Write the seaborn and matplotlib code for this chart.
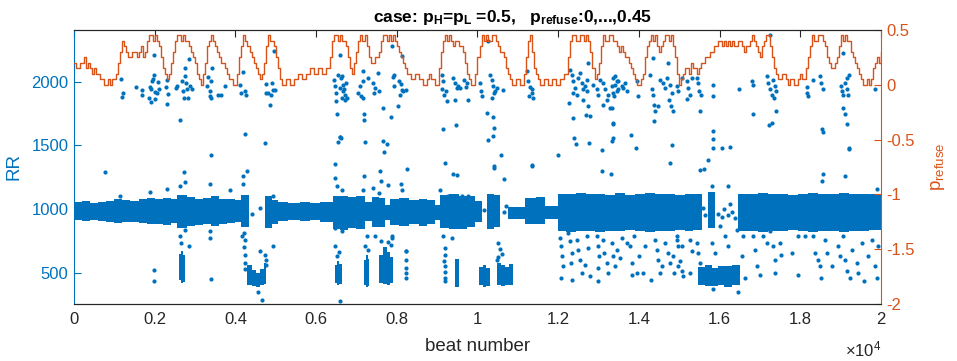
import matplotlib
matplotlib.use('Agg')
import matplotlib.pyplot as plt
from matplotlib.ticker import FuncFormatter
import pandas as pd
import seaborn as sns

BLUE = '#0072BD'
ORANGE = '#D95319'
GREY = '#262626'
NAN = float('nan')

# p_refuse, read every 50 beats
p_beat = list(range(0, 20001, 50))
p_refuse = [
    .2, .15, .15, .2, .2, .25, .15, .2, .15, .1, .15, .1, .1, .05, .05, 0, 0, .05, 0, .05,
    .05, .1, .2, .3, .4, .35, .3, .25, .25, .3, .3, .25, .3, .35, .25, .3, .4, .45, .45, .4,
    .45, .4, .35, .25, .15, .1, .05, .1, .2, .3, .4, .45, .45, .4, .45, .4, .4, .35, .3, .25,
    .2, .1, .05, 0, .1, .2, .35, .4, .45, .4, .35, .3, .25, .2, .2, .15, .1, .05, .05, 0,
    0, .1, .25, .35, .45, .4, .35, .3, .25, .2, .15, .1, .05, .1, .2, .35, .45, .4, .4, .35,
    .25, .15, .05, 0, 0, .05, .05, 0, 0, .05, .05, .1, .1, .05, .05, .1, .1, .15, .15, .1,
    .1, .15, .15, .1, .1, .15, .15, .25, .4, .45, .45, .4, .45, .4, .4, .35, .25, .15, .1, .2,
    .3, .4, .45, .4, .45, .35, .25, .2, .2, .25, .25, .3, .4, .45, .45, .4, .45, .4, .45, .4,
    .35, .3, .25, .2, .15, .1, .1, .05, .05, .1, .1, .05, .05, 0, 0, .05, .1, .05, .05, 0,
    0, .15, .3, .4, .45, .4, .45, .4, .35, .4, .4, .35, .35, .3, .2, .1, .05, 0, 0, .1,
    .25, .35, .45, .4, .45, .4, .4, .45, .45, .4, .35, .3, .3, .25, .15, .1, .05, 0, 0, .05,
    .05, 0, 0, .1, .25, .4, .45, .3, .15, .1, .05, 0, 0, .05, .05, 0, 0, .05, .05, 0,
    0, .05, .05, .1, .1, .25, .4, .45, .45, .4, .4, .45, .45, .4, .45, .4, .3, .15, .05, .1,
    .2, .35, .45, .4, .4, .45, .45, .4, .4, .35, .3, .35, .3, .25, .25, .2, .15, .1, .05, 0,
    0, .05, .1, .25, .35, .4, .45, .4, .45, .35, .3, .35, .4, .45, .45, .4, .45, .35, .25, .1,
    0, .05, .1, .15, .15, .1, .2, .15, .15, .1, .15, .2, .2, .25, .25, .3, .3, .35, .35, .4,
    .4, .35, .4, .35, .4, .35, .4, .35, .35, .4, .4, .35, .3, .35, .35, .4, .45, .4, .35, .3,
    .25, .35, .4, .45, .45, .35, .25, .15, .1, .05, .05, .1, .1, .05, 0, .05, .05, 0, 0, .05,
    .1, .05, .05, .15, .25, .35, .45, .4, .4, .45, .45, .4, .35, .25, .2, .15, .15, .2, .25, .35,
    .45, .4, .45, .4, .4, .3, .25, .2, .15, .1, .05, 0, 0, .05, 0, .05, .15, .2, .25, .2,
    .3,
]

# dense part of the RR cloud: (beat where a step starts, low RR, high RR); NaN = no cloud
band_steps = [
    (0, 915, 1055), (200, 905, 1060), (400, 910, 1050), (600, 905, 1055), (800, 895, 1065),
    (1000, 890, 1075), (1200, 900, 1070), (1400, 895, 1065), (1600, 890, 1075), (1800, 880, 1085),
    (2000, 885, 1075), (2200, 875, 1085), (2400, 890, 1075), (2550, 850, 1110), (2800, 865, 1095),
    (3000, 875, 1080), (3200, 880, 1085), (3400, 870, 1100), (3600, 885, 1080), (3800, 890, 1075),
    (4000, 895, 1070), (4150, 855, 1110), (4345, NAN, NAN), (4733, 850, 1105), (4900, 885, 1070),
    (5050, 905, 1055), (5300, 910, 1050), (5600, 905, 1055), (5850, 910, 1050), (6100, 902, 1058),
    (6430, 840, 1100), (6600, 835, 1105), (6800, 850, 1095), (7000, 840, 1105), (7210, 905, 1055),
    (7380, 855, 1095), (7560, 860, 1090), (7710, 910, 1030), (7830, 875, 1080), (8050, 870, 1085),
    (8300, 880, 1070), (8550, 870, 1080), (8750, 885, 1070), (8950, 915, 1030), (9070, 850, 1110),
    (9300, 845, 1115), (9550, 845, 1105), (9750, 860, 1100), (9940, 895, 1065), (10100, NAN, NAN),
    (10226, 845, 1120), (10400, 855, 1110), (10557, NAN, NAN), (10763, 920, 1015), (11176, 880, 1090),
    (11450, 885, 1095), (11672, 925, 1020), (12002, 830, 1115), (12200, 820, 1120), (12450, 825, 1125),
    (12700, 830, 1115), (12900, 820, 1120), (13150, 830, 1110), (13400, 825, 1125), (13650, 835, 1110),
    (13900, 825, 1115), (14150, 820, 1125), (14400, 830, 1115), (14650, 825, 1120), (14900, 835, 1110),
    (15150, 825, 1120), (15350, 835, 1115), (15554, NAN, NAN), (15719, 850, 1130), (15884, NAN, NAN),
    (16463, 830, 1115), (16700, 825, 1120), (16950, 820, 1125), (17200, 830, 1115), (17450, 825, 1120),
    (17700, 835, 1110), (17950, 825, 1120), (18200, 820, 1125), (18450, 830, 1115), (18700, 825, 1120),
    (18950, 820, 1125), (19200, 830, 1115), (19450, 825, 1120), (19700, 835, 1115), (20000, NAN, NAN),
]

# dense low-RR clusters, same layout
blob_steps = [
    (2600, 440, 650), (2650, 420, 670), (2700, 430, 640), (2745, NAN, NAN),
    (4290, 400, 560), (4400, 395, 520), (4500, 390, 500), (4620, 400, 530), (4700, 410, 575),
    (4770, NAN, NAN),
    (6460, 420, 560), (6520, 407, 590), (6580, 415, 570), (6630, NAN, NAN),
    (7180, 400, 600), (7230, 385, 640), (7280, 395, 610), (7310, NAN, NAN),
    (7560, 420, 640), (7650, 410, 700), (7750, 405, 660), (7830, 420, 620), (7900, NAN, NAN),
    (9450, 390, 610), (9530, NAN, NAN),
    (10040, 400, 545), (10130, 385, 560), (10220, 395, 540), (10300, NAN, NAN),
    (10480, 400, 580), (10580, 395, 560), (10680, 400, 545), (10780, 405, 570), (10880, NAN, NAN),
    (15470, 400, 545), (15650, 395, 560), (15800, 395, 540), (15950, 400, 555), (16100, 390, 550),
    (16300, 400, 560), (16500, NAN, NAN),
]

# single beats around 2000 ms
upper_pts = [
    (1173, 2024), (1214, 1911), (1189, 1880), (1528, 1956), (1685, 1930), (1685, 1891),
    (1875, 1956), (1900, 1938), (1850, 1872), (1916, 1841), (1941, 2003), (1958, 2024),
    (1982, 2055), (1999, 1917), (2015, 1867), (2048, 1911), (2081, 1995), (2098, 1943),
    (1982, 2207), (2288, 1956), (2313, 2016), (2296, 1825), (2329, 1904), (2536, 1951),
    (2560, 1969), (2684, 2008), (2709, 1924), (2726, 1872), (2742, 2107), (2759, 2042),
    (2784, 1990), (2808, 1938), (2825, 1872), (2841, 2178), (2866, 1964), (2924, 1943),
    (3304, 1964), (3320, 2034), (3362, 1924), (3378, 1885), (3386, 1872), (3403, 2003),
    (3420, 2107), (3568, 1891), (3651, 1898), (3733, 1969), (4122, 1977), (4147, 1911),
    (4196, 2073), (4229, 1924), (4270, 1898), (4749, 1982), (4766, 1911), (4807, 1911),
    (4848, 1815), (4890, 1898), (4906, 1990), (4931, 1930), (4972, 1932), (4948, 2243),
    (6434, 2016), (6459, 1964), (6484, 1911), (6501, 1846), (6542, 2055), (6583, 1951),
    (6625, 2029), (6666, 1924), (6707, 1859), (6749, 1990), (6591, 2212), (6632, 2042),
    (6657, 1977), (6690, 1938), (6715, 1898), (6756, 1872), (6632, 1872), (7169, 2086),
    (7153, 2003), (7087, 1964), (7045, 1911), (7103, 1885), (7153, 1872), (7293, 2029),
    (7417, 1990), (7458, 1951), (7434, 1911), (7566, 1924), (7541, 2068), (7896, 2034),
    (7929, 2055), (7929, 1964), (8061, 2003), (8103, 1982), (8119, 1930), (8078, 1893),
    (8160, 1924), (8226, 1930), (8037, 1807), (8119, 2199), (7871, 2277), (9110, 2055),
    (9152, 2003), (9127, 1938), (9168, 1898), (9218, 1924), (9234, 1851), (9399, 2029),
    (9441, 1990), (9482, 1951), (9523, 1964), (9565, 1951), (9441, 1859), (9664, 2016),
    (9730, 1990), (9713, 1956), (9771, 1859), (10060, 1990), (10077, 1924), (10102, 1885),
    (10308, 2055), (10349, 2016), (10391, 1964), (10407, 1911), (10366, 1872), (10440, 1924),
    (10473, 1951), (10638, 1932), (10267, 2316), (11217, 2081), (11258, 2003), (11299, 1956),
    (11341, 1938), (11274, 1885), (11357, 1911), (11382, 1872), (12290, 2094), (12332, 2055),
    (12373, 2003), (12414, 1951), (12373, 1911), (12274, 1833), (12456, 1898), (12497, 2029),
    (12538, 2068), (12580, 1990), (12604, 1938), (12621, 1859), (12662, 1964), (12703, 2016),
    (12745, 2147), (12720, 1924), (12745, 1807), (12869, 1977), (12951, 1938), (12993, 1898),
    (13034, 2016), (13116, 1990), (13158, 1938), (13116, 1820), (13199, 1859), (13240, 1898),
    (13323, 1964), (13364, 1911), (13406, 2042), (13447, 2003), (13488, 1938), (13365, 2029),
    (13406, 1977), (13447, 1924), (13381, 1885), (13489, 2003), (13654, 1990), (13612, 1951),
    (13695, 1924), (13571, 1964), (13984, 1885), (13943, 2003), (14273, 2055), (14315, 1938),
    (14356, 1898), (14339, 2186), (14372, 1820), (14521, 2016), (14604, 1990), (14645, 1951),
    (14686, 2029), (14728, 2147), (14769, 1977), (14810, 1911), (14752, 1859), (14794, 1807),
    (14934, 1964), (14975, 1924), (15058, 2029), (15182, 2003), (15223, 1951), (15264, 1898),
    (15198, 1867), (15306, 2029), (15430, 2029), (15471, 1990), (15496, 1924), (15529, 1898),
    (15826, 1977), (15843, 1885), (16487, 1943), (16793, 2003), (16834, 1977), (17164, 2042),
    (17206, 1990), (17247, 1938), (17288, 1898), (17329, 2016), (17371, 1964), (17346, 1872),
    (17395, 1924), (17247, 2369), (18155, 1956), (18172, 1911), (18197, 1885), (18321, 2016),
    (18486, 2042), (18502, 1990), (18568, 1938), (18998, 1964), (19039, 1924), (19064, 1898),
    (19105, 1990), (19147, 2029), (19163, 1938), (19188, 1898), (19213, 2055), (19064, 2225),
    (19849, 1945),
]

# single beats between the cloud and 2000 ms
mid_pts = [
    (768, 1287), (2627, 1702), (2726, 1287), (3403, 1423), (4229, 1585), (4295, 1300),
    (4741, 1520), (6525, 1742), (6608, 1559), (6542, 1525), (6459, 1350), (6592, 1564),
    (7665, 1794), (7847, 1721), (7186, 1747), (7186, 1695), (7211, 1528), (6591, 1564),
    (7665, 1533), (7747, 1512), (7690, 1449), (7195, 1261), (7583, 1295), (8244, 1313),
    (9152, 1629), (9465, 1658), (9193, 1363), (9400, 1277), (9483, 1266), (10225, 1755),
    (10391, 1721), (10407, 1637), (10391, 1572), (10267, 1538), (10581, 1423), (10407, 1337),
    (10416, 1321), (10656, 1235), (11358, 1339), (12001, 1423), (11349, 1342), (12373, 1716),
    (12687, 1736), (12786, 1729), (12390, 1554), (12439, 1512), (12769, 1520), (13075, 1460),
    (13282, 1794), (13364, 1677), (13348, 1559), (13092, 1295), (13307, 1277), (13323, 1794),
    (14397, 1768), (14372, 1689), (14480, 1807), (14835, 1773), (15512, 1768), (16817, 1747),
    (17288, 1677), (17222, 1658), (17395, 1768), (19064, 1794), (19105, 1742), (19147, 1669),
    (18527, 1624), (18568, 1606), (13365, 1669), (13323, 1533), (13794, 1580), (13926, 1481),
    (14810, 1501), (14769, 1363), (15719, 1381), (15826, 1611), (15826, 1546), (15826, 1475),
    (16049, 1475), (16256, 1488), (19196, 1475), (15512, 1303), (15620, 1313), (18552, 1277),
    (18544, 1217), (19106, 1261), (19205, 1470), (15818, 1183), (16198, 1183), (19890, 1157),
]

# single beats just off the cloud and below it
low_pts = [
    (1883, 1130), (2296, 1157), (2627, 1183), (2750, 1209), (3370, 1198), (3866, 1146),
    (4196, 1196), (4196, 1256), (1140, 1104), (4940, 1099), (3370, 825), (3370, 773),
    (4155, 786), (4609, 668), (4733, 642), (4940, 707), (4774, 903), (2627, 791),
    (2858, 713), (2750, 838), (8103, 1198), (7459, 786), (7888, 773), (7789, 739),
    (8227, 668), (1991, 519), (1991, 433), (3395, 454), (4650, 289), (4551, 349),
    (6592, 276), (16462, 349), (15843, 373), (6468, 1243), (6509, 1183), (6633, 1151),
    (7170, 1151), (7418, 1165), (7558, 1125), (7608, 1217), (7773, 1191), (8119, 1151),
    (7872, 786), (6468, 851), (6633, 825), (7253, 786), (9152, 786), (9359, 773),
    (9441, 864), (9070, 1151), (9276, 1099), (9607, 1099), (9772, 1099),
    (4220, 812), (4235, 760), (4225, 700), (4240, 640), (4230, 580), (4245, 530),
    (4760, 600), (4770, 560), (2651, 734), (6480, 707), (6560, 660), (6510, 630),
    (7200, 707), (7280, 680), (7600, 746), (7850, 720),
    (8230, 668), (8235, 600), (8230, 540), (8240, 500), (8235, 455),
    (9190, 694), (9195, 640), (9180, 590), (9200, 550), (9190, 505), (9195, 460), (9200, 433),
    (10520, 733), (10560, 690), (10600, 650), (10520, 620), (10480, 600),
    (12043, 773), (12068, 707), (12101, 629), (12126, 551), (12068, 459), (12250, 812),
    (12291, 746), (12332, 655), (12316, 577), (12332, 446), (12456, 760), (12498, 681),
    (12539, 603), (12580, 498), (12704, 786), (12745, 694), (12663, 564), (12787, 472),
    (12952, 786), (12993, 707), (13010, 629), (12977, 538), (12993, 433), (13117, 760),
    (13142, 655), (13200, 577), (13241, 498), (13324, 734), (13365, 629), (13406, 551),
    (13448, 681), (13530, 616), (13571, 773), (13695, 734), (13778, 707), (13819, 577),
    (13819, 485), (13885, 786), (13943, 498), (14001, 629), (14108, 498), (14150, 707),
    (14298, 446), (14397, 760), (14439, 681), (14464, 603), (14521, 498), (14563, 551),
    (14645, 734), (14711, 655), (14769, 577), (14852, 629), (14877, 498), (14934, 760),
    (14976, 551), (15058, 707), (15099, 472), (14934, 786), (14976, 707), (15017, 590),
    (15058, 511), (15265, 760), (15306, 668), (15265, 498), (15430, 734), (15471, 655),
    (15512, 577), (15802, 734), (15884, 655), (15719, 498), (16132, 786), (16215, 707),
    (16421, 838), (16586, 786), (16545, 629), (16628, 459), (16834, 786), (16875, 681),
    (16917, 551), (16999, 485), (17082, 786), (17165, 734), (17247, 825), (17330, 707),
    (17371, 603), (17371, 498), (17495, 734), (17520, 642), (17784, 655), (17949, 786),
    (17933, 485), (18114, 786), (18321, 786), (18362, 655), (18445, 603), (18486, 551),
    (18503, 459), (18610, 760), (18651, 655), (18775, 551), (18941, 707), (18982, 629),
    (19064, 786), (19106, 603), (19147, 511), (19230, 459), (19271, 681), (19395, 577),
    (19436, 498), (19519, 734), (19585, 433), (19684, 629), (19767, 760), (19849, 551),
    (19890, 459), (19931, 707),
    (15950, 960), (16050, 940), (16100, 1000), (16200, 950), (16300, 980), (16380, 930),
    (16000, 870), (16250, 1040), (15600, 1010), (15650, 950), (10650, 980), (10700, 1020),
    (10150, 990), (4400, 960), (4600, 1010),
]

dots = pd.DataFrame(upper_pts + mid_pts + low_pts, columns=['beat', 'RR'])
p_df = pd.DataFrame({'beat': p_beat, 'p_refuse': p_refuse})


def fill_steps(ax, steps):
    # one outline per unbroken run of steps; a NaN entry closes the run
    xs, los, his = [], [], []
    for x, lo, hi in steps:
        if lo == lo:
            xs.append(x)
            los.append(lo)
            his.append(hi)
        elif xs:
            xs.append(x)
            top_x, top_y, bot_x, bot_y = [], [], [], []
            for i in range(len(los)):
                top_x += [xs[i], xs[i + 1]]
                top_y += [his[i], his[i]]
                bot_x += [xs[i], xs[i + 1]]
                bot_y += [los[i], los[i]]
            ax.fill(top_x + bot_x[::-1], top_y + bot_y[::-1], color=BLUE,
                    lw=0, antialiased=False, zorder=2)
            xs, los, his = [], [], []


sns.set_style('white')
plt.rcParams['font.family'] = ['Liberation Sans', 'DejaVu Sans']
plt.rcParams['mathtext.default'] = 'regular'
plt.rcParams['axes.unicode_minus'] = False

fig = plt.figure(figsize=(9.57, 3.61), dpi=100)
ax = fig.add_axes([0.0773, 0.158, 0.8433, 0.759])

fill_steps(ax, band_steps)
fill_steps(ax, blob_steps)
sns.scatterplot(data=dots, x='beat', y='RR', ax=ax, color=BLUE, s=9,
                linewidth=0, zorder=3)

ax.set_xlim(0, 20000)
ax.set_ylim(255, 2405)
ax.set_xticks(range(0, 20001, 2000))
ax.xaxis.set_major_formatter(FuncFormatter(lambda v, _: f'{v / 1e4:g}'))
ax.set_yticks([500, 1000, 1500, 2000])
ax.set_xlabel('beat number', fontsize=13.5, color=GREY, labelpad=8)
ax.set_ylabel('RR', fontsize=13.5, color=BLUE, labelpad=6)
ax.tick_params(axis='x', direction='in', top=True, length=5, width=0.8,
               labelsize=12, colors=GREY, pad=6)
ax.tick_params(axis='y', direction='in', length=5, width=0.8,
               labelsize=12, colors=BLUE, pad=4)
ax.text(1.0, -0.19, r'$\times$10$^{4}$', transform=ax.transAxes,
        ha='right', va='baseline', fontsize=12, color=GREY)

ax2 = ax.twinx()
sns.lineplot(data=p_df, x='beat', y='p_refuse', ax=ax2, color=ORANGE,
             lw=1.0, drawstyle='steps-post', estimator=None)
ax2.set_ylim(-2, 0.5)
ax2.set_yticks([-2, -1.5, -1, -0.5, 0, 0.5])
ax2.yaxis.set_major_formatter(FuncFormatter(lambda v, _: f'{v:g}'))
ax2.set_ylabel('p$_{refuse}$', fontsize=13.5, color=ORANGE, labelpad=10)
ax2.tick_params(axis='y', direction='in', length=5, width=0.8,
                labelsize=12, colors=ORANGE, pad=4)

for a in (ax, ax2):
    for side in ('top', 'bottom'):
        a.spines[side].set_color(GREY)
        a.spines[side].set_linewidth(0.8)
ax.spines['left'].set_color(BLUE)
ax.spines['left'].set_linewidth(0.8)
ax.spines['right'].set_visible(False)
ax2.spines['left'].set_visible(False)
ax2.spines['right'].set_color(ORANGE)
ax2.spines['right'].set_linewidth(0.8)

ax.set_title(r'case: p$_{H}$=p$_{L}$ =0.5,   p$_{refuse}$:0,...,0.45',
             fontsize=12.5, fontweight='bold', color='black', x=0.544, pad=6)

fig.savefig('out.png', dpi=100)
